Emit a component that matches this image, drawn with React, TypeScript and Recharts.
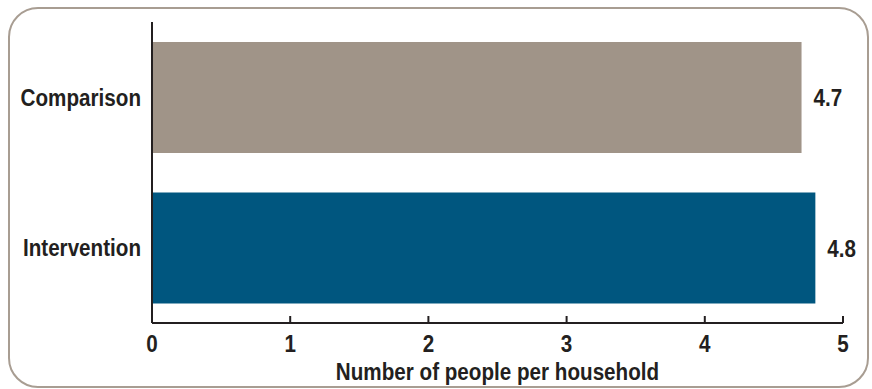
import React from "react";
import { BarChart, Bar, XAxis, YAxis, LabelList, Cell, Label } from "recharts";

const groups = ["Comparison", "Intervention"];
const householdSize = [4.7, 4.8];
const barColors = ["#a09488", "#00567f"];
const xTicks = [0, 1, 2, 3, 4, 5];
const axisTitle = "Number of people per household";

const data = groups.map((g, i) => ({ group: g, value: householdSize[i] }));

const FONT = "'Liberation Sans', Arial, sans-serif";
const INK = "#231f20";
const SQUEEZE = 0.86;

// condensed bold text (no narrow font installed, so squeeze horizontally)
const Narrow = ({ x, y, anchor, dy, children }: any) => (
  <g transform={`translate(${x},${y}) scale(${SQUEEZE},1)`}>
    <text
      x={0}
      y={0}
      dy={dy}
      textAnchor={anchor}
      fill={INK}
      fontSize={24}
      fontWeight={700}
      fontFamily={FONT}
    >
      {children}
    </text>
  </g>
);

const YTick = (p: any) => (
  <Narrow x={p.x} y={p.y} anchor="end" dy="0.36em">
    {p.payload.value}
  </Narrow>
);

const XTick = (p: any) => (
  <Narrow x={p.x} y={p.y} anchor="middle" dy="0.72em">
    {p.payload.value}
  </Narrow>
);

const ValueLabel = (p: any) => (
  <Narrow x={p.x + p.width + 12} y={p.y + p.height / 2} anchor="start" dy="0.36em">
    {p.value}
  </Narrow>
);

const AxisTitle = (p: any) => {
  const vb = p.viewBox;
  return (
    <Narrow x={vb.x + vb.width / 2} y={vb.y + vb.height - 3} anchor="middle" dy="0">
      {axisTitle}
    </Narrow>
  );
};

export default function App() {
  return (
    <div style={{ position: "absolute", left: 0, top: 0, width: 872, height: 389, background: "#fff" }}>
      <div
        style={{
          position: "absolute",
          left: 8,
          top: 7,
          width: 857,
          height: 377,
          border: "2px solid #a89d92",
          borderRadius: 30,
        }}
      />
      <div style={{ position: "absolute", left: 0, top: 0 }}>
        <BarChart
          width={872}
          height={389}
          data={data}
          layout="vertical"
          margin={{ top: 22, right: 29, left: 0, bottom: 6 }}
          barCategoryGap={20}
        >
          <XAxis
            type="number"
            domain={[0, 5]}
            ticks={xTicks}
            height={60}
            axisLine={{ stroke: INK, strokeWidth: 2 }}
            tickLine={{ stroke: INK, strokeWidth: 2 }}
            tickSize={-7}
            tickMargin={19}
            tick={XTick}
          >
            <Label content={AxisTitle} />
          </XAxis>
          <YAxis
            type="category"
            dataKey="group"
            width={152}
            axisLine={{ stroke: INK, strokeWidth: 2 }}
            tickLine={false}
            tickSize={0}
            tickMargin={11}
            tick={YTick}
          />
          <Bar dataKey="value" isAnimationActive={false}>
            {data.map((d, i) => (
              <Cell key={d.group} fill={barColors[i]} />
            ))}
            <LabelList dataKey="value" content={ValueLabel} />
          </Bar>
        </BarChart>
      </div>
    </div>
  );
}
